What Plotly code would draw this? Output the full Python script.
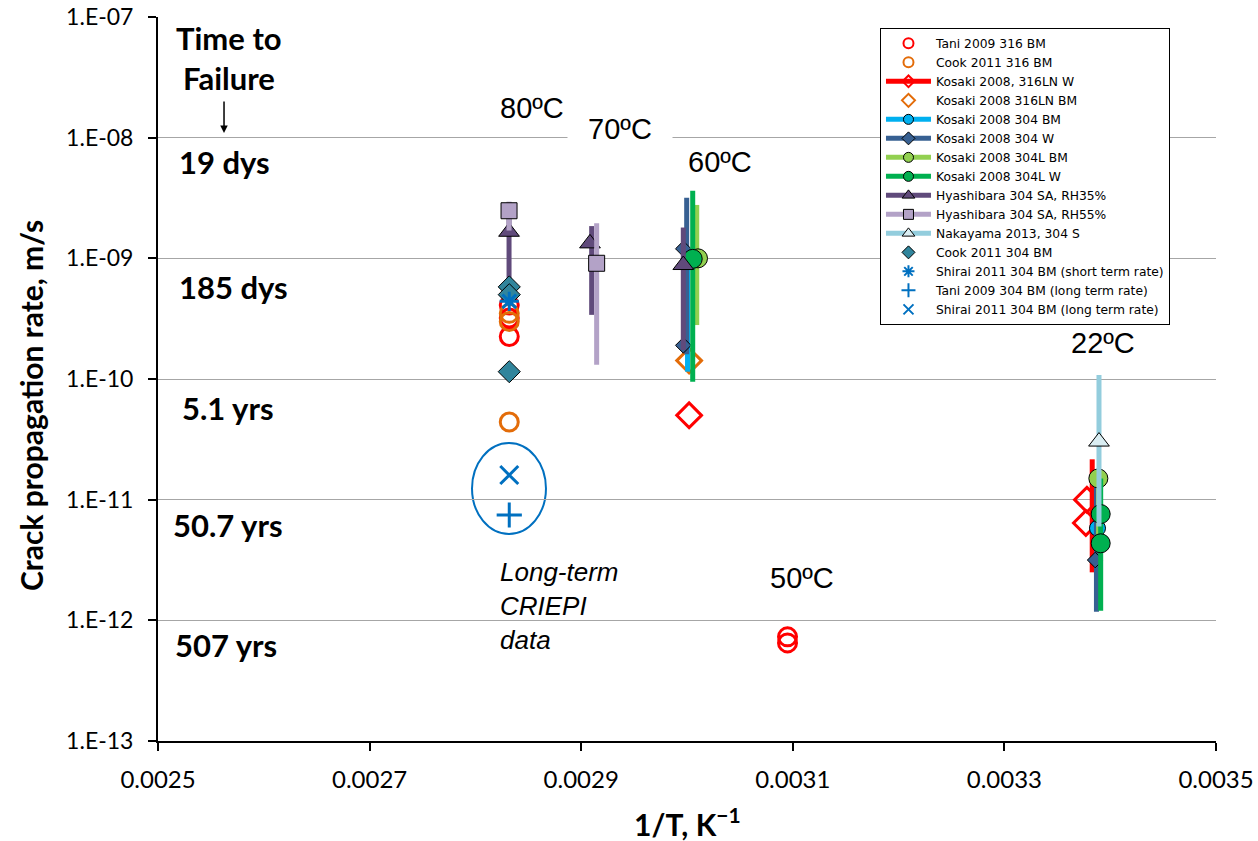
import plotly.graph_objects as go

# ---------------- data ----------------
y_tickvals = [1e-13, 1e-12, 1e-11, 1e-10, 1e-9, 1e-8, 1e-7]
y_ticktext = ["1.E-13", "1.E-12", "1.E-11", "1.E-10", "1.E-09", "1.E-08", "1.E-07"]
x_tickvals = [0.0025, 0.0027, 0.0029, 0.0031, 0.0033, 0.0035]
x_ticktext = ["0.0025", "0.0027", "0.0029", "0.0031", "0.0033", "0.0035"]

# Tani 2009 316 BM
tani316_x = [0.002832, 0.002832, 0.002832, 0.003095, 0.003095]
tani316_y = [4.1e-10, 3.2e-10, 2.25e-10, 7.3e-13, 6.5e-13]
# Cook 2011 316 BM
cook316_x = [0.002832, 0.002832, 0.002832]
cook316_y = [3.5e-10, 3.0e-10, 4.4e-11]
# Kosaki 2008, 316LN W
k316lnw_x = [0.003002, 0.003378, 0.003377]
k316lnw_y = [5.0e-11, 1.0e-11, 6.4e-12]
k316lnw_rx = [0.003383]
k316lnw_lo = [2.5e-12]
k316lnw_hi = [2.16e-11]
# Kosaki 2008 316LN BM
k316lnbm_x = [0.003002]
k316lnbm_y = [1.42e-10]
# Kosaki 2008 304 BM
k304bm_x = [0.003004, 0.003388]
k304bm_y = [1.0e-9, 5.8e-12]
k304bm_rx = [0.0030005, 0.003388]
k304bm_lo = [1.15e-10, 1.5e-12]
k304bm_hi = [1.0e-9, 1.5e-11]
# Kosaki 2008 304 W
k304w_x = [0.0029965, 0.0029965, 0.0033858]
k304w_y = [1.2e-9, 1.9e-10, 3.16e-12]
k304w_rx = [0.0029997, 0.003387]
k304w_lo = [1.6e-10, 1.18e-12]
k304w_hi = [3.18e-9, 1.5e-11]
# Kosaki 2008 304L BM
k304lbm_x = [0.0030104, 0.0033888]
k304lbm_y = [1.0e-9, 1.5e-11]
k304lbm_rx = [0.0030092, 0.003389]
k304lbm_lo = [2.8e-10, 4.0e-12]
k304lbm_hi = [2.77e-9, 1.5e-11]
# Kosaki 2008 304L W
k304lw_x = [0.0030054, 0.003391, 0.003391]
k304lw_y = [9.9e-10, 7.6e-12, 4.35e-12]
k304lw_rx = [0.0030054, 0.003391]
k304lw_lo = [9.5e-11, 1.2e-12]
k304lw_hi = [3.64e-9, 1.5e-11]
# Hyashibara 304 SA, RH35%
h35_x = [0.0028318, 0.0029083, 0.0029965]
h35_y = [1.66e-9, 1.33e-9, 8.8e-10]
h35_rx = [0.0028318, 0.0029099, 0.0029965]
h35_lo = [5.8e-10, 3.4e-10, 1.74e-10]
h35_hi = [2.9e-9, 1.85e-9, 1.8e-9]
# Hyashibara 304 SA, RH55%
h55_x = [0.0028318, 0.0029146]
h55_y = [2.48e-9, 9.1e-10]
h55_rx = [0.0028318, 0.0029146]
h55_lo = [1.7e-9, 1.31e-10]
h55_hi = [2.95e-9, 1.95e-9]
# Nakayama 2013, 304 S
nak_x = [0.0033894]
nak_y = [3.03e-11]
nak_rx = [0.0033894]
nak_lo = [6.0e-12]
nak_hi = [1.08e-10]
# Cook 2011 304 BM
cook304_x = [0.002832, 0.002832, 0.002832]
cook304_y = [5.8e-10, 5.0e-10, 1.15e-10]
# Shirai 2011 304 BM (short term rate)
shs_x = [0.002832]
shs_y = [4.4e-10]
# Tani 2009 304 BM (long term rate)
tanil_x = [0.002832]
tanil_y = [7.46e-12]
# Shirai 2011 304 BM (long term rate)
shl_x = [0.002832]
shl_y = [1.6e-11]

# temperature labels
temp_text = ["80ºC", "70ºC", "60ºC", "50ºC", "22ºC"]
temp_x = [0.0028535, 0.0029367, 0.0030312, 0.0031087, 0.0033932]
temp_logy = [-7.754, -7.93, -8.202, -11.649, -9.702]
# time-to-failure labels
ttf_text = ["19 dys", "185 dys", "5.1 yrs", "50.7 yrs", "507 yrs"]
ttf_x = [0.0025624, 0.0025709, 0.0025662, 0.0025662, 0.0025643]
ttf_logy = [-8.202, -9.2375, -10.240, -11.210, -12.204]

# ---------------- figure ----------------
fig = go.Figure()


def gapped(xs, ys):
    gx, gy = [], []
    for a, b in zip(xs, ys):
        gx += [a, None]
        gy += [b, None]
    return gx[:-1], gy[:-1]


def add_range(xs, lo, hi, color, width=5):
    sx, sy = [], []
    for a, l, h in zip(xs, lo, hi):
        sx += [a, a, None]
        sy += [l, h, None]
    fig.add_trace(go.Scatter(x=sx, y=sy, mode="lines", line=dict(color=color, width=width),
                             showlegend=False, hoverinfo="skip"))


legend_entries = []


def add_series(name, xs, ys, symbol, size, fill, lcolor, lwidth, line_color=None, lsize=10):
    gx, gy = gapped(xs, ys)
    fig.add_trace(go.Scatter(
        x=gx, y=gy, mode="markers", name=name, showlegend=False,
        marker=dict(symbol=symbol, size=size, color=fill,
                    line=dict(color=lcolor, width=lwidth))))
    legend_entries.append(dict(name=name, symbol=symbol, fill=fill, lcolor=lcolor,
                               lwidth=min(lwidth, 2), line_color=line_color, lsize=lsize))


RED = "#FF0000"
ORANGE = "#E36C09"
BLUE304 = "#00B0F0"
DBLUE = "#376092"
LGREEN = "#92D050"
GREEN = "#00B050"
DPURPLE = "#604A7B"
LPURPLE = "#B3A2C7"
LBLUE = "#93CDDD"
TEAL = "#31859C"
SBLUE = "#0070C0"

add_series("Tani 2009 316 BM", tani316_x, tani316_y, "circle-open", 18, RED, RED, 3)
add_series("Cook 2011 316 BM", cook316_x, cook316_y, "circle-open", 18, ORANGE, ORANGE, 3)
add_range(k316lnw_rx, k316lnw_lo, k316lnw_hi, RED)
add_series("Kosaki 2008, 316LN W", k316lnw_x, k316lnw_y, "diamond-open", 19, RED, RED, 3, RED, 9)
add_series("Kosaki 2008 316LN BM", k316lnbm_x, k316lnbm_y, "diamond-open", 19, ORANGE, ORANGE, 3)
add_range(k304bm_rx, k304bm_lo, k304bm_hi, BLUE304)
add_series("Kosaki 2008 304 BM", k304bm_x, k304bm_y, "circle", 16, BLUE304, "black", 1, BLUE304)
add_range(k304w_rx, k304w_lo, k304w_hi, DBLUE)
add_series("Kosaki 2008 304 W", k304w_x, k304w_y, "diamond", 12, DBLUE, "black", 1, DBLUE)
add_range(k304lbm_rx, k304lbm_lo, k304lbm_hi, LGREEN)
add_series("Kosaki 2008 304L BM", k304lbm_x, k304lbm_y, "circle", 19, LGREEN, "black", 1, LGREEN)
add_range(k304lw_rx, k304lw_lo, k304lw_hi, GREEN)
add_series("Kosaki 2008 304L W", k304lw_x, k304lw_y, "circle", 19, GREEN, "black", 1, GREEN)
add_range(h35_rx, h35_lo, h35_hi, DPURPLE)
add_series("Hyashibara 304 SA, RH35%", h35_x, h35_y, "triangle-up", 18, DPURPLE, "black", 1, DPURPLE, 11)
add_range(h55_rx, h55_lo, h55_hi, LPURPLE)
add_series("Hyashibara 304 SA, RH55%", h55_x, h55_y, "square", 16, LPURPLE, "black", 1, LPURPLE)
add_range(nak_rx, nak_lo, nak_hi, LBLUE)
add_series("Nakayama 2013, 304 S", nak_x, nak_y, "triangle-up", 18, "#DAEEF3", "black", 1, LBLUE, 11)
add_series("Cook 2011 304 BM", cook304_x, cook304_y, "diamond", 17, TEAL, "black", 1)
add_series("Shirai 2011 304 BM (short term rate)", shs_x, shs_y, "asterisk-open", 16, SBLUE, SBLUE, 3)
add_series("Tani 2009 304 BM (long term rate)", tanil_x, tanil_y, "cross-thin-open", 18, SBLUE, SBLUE, 3)
add_series("Shirai 2011 304 BM (long term rate)", shl_x, shl_y, "x-thin-open", 18, SBLUE, SBLUE, 3)

# legend-only entries (small symbols like the reference legend)
for e in legend_entries:
    fig.add_trace(go.Scatter(
        x=[None], y=[None], name=e["name"],
        mode="lines+markers" if e["line_color"] else "markers",
        line=dict(color=e["line_color"] or e["fill"], width=5),
        marker=dict(symbol=e["symbol"], size=e["lsize"], color=e["fill"],
                    line=dict(color=e["lcolor"], width=e["lwidth"]))))

# ellipse around long-term CRIEPI data
fig.add_shape(type="circle", xref="x", yref="y", x0=0.0027968, x1=0.0028667,
              y0=5.2e-12, y1=2.95e-11, line=dict(color=SBLUE, width=2), layer="below")

anns = []
for t, x, y in zip(temp_text, temp_x, temp_logy):
    a = dict(x=x, y=y, xref="x", yref="y", text=t, showarrow=False,
             font=dict(family="Liberation Sans", size=29, color="black"))
    if t == "70ºC":
        a.update(bgcolor="white", width=100, borderpad=2)
    anns.append(a)
for t, x, y in zip(ttf_text, ttf_x, ttf_logy):
    anns.append(dict(x=x, y=y, xref="x", yref="y", text="<b>" + t + "</b>", showarrow=False,
                     font=dict(family="Lato", size=31, color="black")))
anns.append(dict(x=0.002567, y=-7.174, xref="x", yref="y", text="<b>Time to</b>", showarrow=False,
                 font=dict(family="Lato", size=31, color="black")))
anns.append(dict(x=0.002567, y=-7.506, xref="x", yref="y", text="<b>Failure</b>", showarrow=False,
                 font=dict(family="Lato", size=31, color="black")))
anns.append(dict(x=0.0025624, y=-7.961, xref="x", yref="y", text="", showarrow=True,
                 ax=0, ay=-33, arrowhead=2, arrowsize=1, arrowwidth=1.5, arrowcolor="black"))
anns.append(dict(x=0.0028214, y=-11.46, xref="x", yref="y", xanchor="left", yanchor="top",
                 align="left", text="<i>Long-term<br>CRIEPI<br>data</i>", showarrow=False,
                 font=dict(family="Liberation Sans", size=26, color="black")))
# axis titles
anns.append(dict(x=0.5, y=-0.112, xref="paper", yref="paper", yanchor="middle",
                 text="<b>1/T, K<sup>\u22121</sup></b>",
                 showarrow=False, font=dict(family="Lato", size=30, color="black")))
anns.append(dict(x=-0.12, y=0.4627, xref="paper", yref="paper", xanchor="center", yanchor="middle",
                 textangle=-90, text="<b>Crack propagation rate, m/s</b>",
                 showarrow=False, font=dict(family="Lato", size=30, color="black")))

fig.update_layout(
    width=1258, height=841,
    margin=dict(l=158, r=42, t=17, b=100),
    paper_bgcolor="white", plot_bgcolor="white",
    annotations=anns,
    showlegend=True,
    legend=dict(x=0.6824, y=0.985, xanchor="left", yanchor="top",
                bgcolor="white", bordercolor="black", borderwidth=1,
                font=dict(family="DejaVu Sans", size=12.3, color="black"),
                tracegroupgap=0, itemwidth=45),
    xaxis=dict(range=[0.0025, 0.0035], tickvals=x_tickvals, ticktext=x_ticktext,
               showgrid=False, zeroline=False, showline=True, linecolor="black", linewidth=2,
               ticks="outside", ticklen=8, tickwidth=2, tickcolor="black", automargin=False,
               ticklabeloverflow="allow",
               tickfont=dict(family="Lato", size=24, color="black"), ticklabelstandoff=8),
    yaxis=dict(type="log", range=[-13, -7], tickvals=y_tickvals, ticktext=y_ticktext,
               showgrid=True, gridcolor="#A6A6A6", gridwidth=1, zeroline=False,
               showline=True, linecolor="black", linewidth=2, automargin=False,
               ticklabeloverflow="allow",
               ticks="outside", ticklen=8, tickwidth=2, tickcolor="black",
               tickfont=dict(family="Lato", size=23, color="black"), ticklabelstandoff=10),
)

fig.write_html("out.html", config={"displayModeBar": False},
               post_script="document.body.style.margin='0px';")
